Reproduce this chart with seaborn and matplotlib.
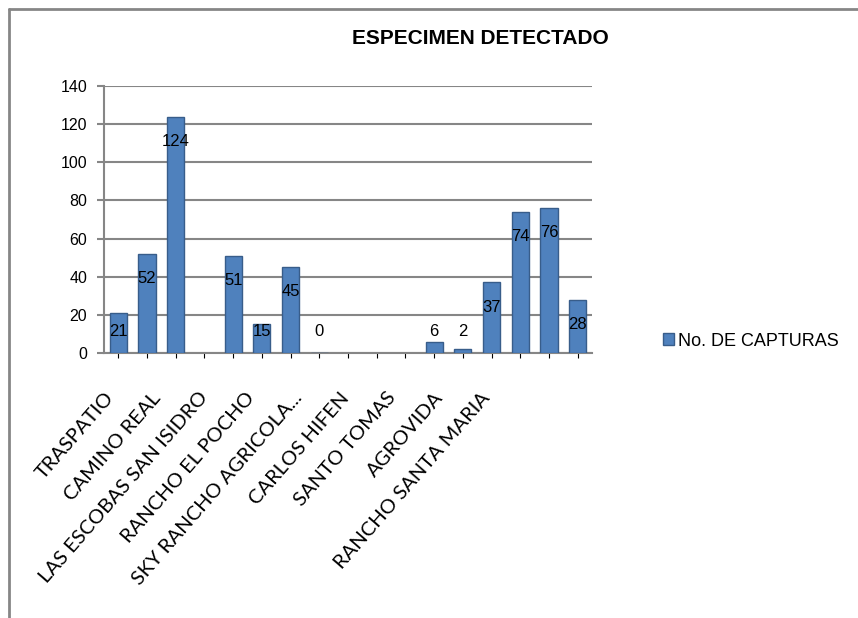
import numpy as np
import pandas as pd
import matplotlib.pyplot as plt
import matplotlib.lines as mlines
import seaborn as sns

# datos (las posiciones sin etiqueta visible llevan nombre generico)
sitios = ['TRASPATIO', 'SITIO 2', 'CAMINO REAL', 'SITIO 4', 'LAS ESCOBAS SAN ISIDRO', 'SITIO 6',
          'RANCHO EL POCHO', 'SITIO 8', 'SKY RANCHO AGRICOLA...', 'SITIO 10', 'CARLOS HIFEN',
          'SITIO 12', 'SANTO TOMAS', 'SITIO 14', 'AGROVIDA', 'SITIO 16', 'RANCHO SANTA MARIA']
capturas = [21, 52, 124, None, 51, 15, 45, 0, None, None, None, 6, 2, 37, 74, 76, 28]
etiquetas = sitios[::2]
serie = 'No. DE CAPTURAS'
titulo = 'ESPECIMEN DETECTADO'

df = pd.DataFrame({'Sitio': sitios, 'Capturas': capturas}).dropna()

sns.set_style('white')
plt.rcParams['font.family'] = ['Liberation Sans', 'DejaVu Sans']
plt.rcParams['text.color'] = 'black'
plt.rcParams['xtick.color'] = 'black'
plt.rcParams['ytick.color'] = 'black'

azul = '#4F81BD'
borde = '#385D8A'
gris = '#868686'

fig = plt.figure(figsize=(8.58, 6.18), dpi=100)
ax = fig.add_axes([104 / 858, 1 - 353 / 618, 488 / 858, 267 / 618])

sns.barplot(data=df, x='Sitio', y='Capturas', order=sitios, color=azul, width=0.6,
            edgecolor=borde, linewidth=1, saturation=1, ax=ax, zorder=3)

ax.set_xlim(-0.5, len(sitios) - 0.5)
ax.set_ylim(0, 140)
ax.set_yticks(np.arange(0, 141, 20))
ax.yaxis.grid(True, color=gris, linewidth=1.5, zorder=0)
ax.set_axisbelow(True)
ax.tick_params(axis='y', left=True, length=5, width=1.5, color=gris, labelcolor='black',
               labelsize=11.5, pad=7)
ax.tick_params(axis='x', bottom=False, labelbottom=False)
for s in ['top', 'right']:
    ax.spines[s].set_visible(False)
for s in ['left', 'bottom']:
    ax.spines[s].set_color(gris)
    ax.spines[s].set_linewidth(1.5)
ax.set_xlabel('')
ax.set_ylabel('')

# etiquetas de valor
for i, (nombre, v) in enumerate(zip(sitios, capturas)):
    if v is None:
        continue
    ax.text(i, max(v - 13, 11.5), str(v), ha='center', va='center', fontsize=12,
            color='black', zorder=5)

# etiquetas de categoria en un eje gemelo
ax2 = ax.twiny()
ax2.set_xlim(0.35, 10.37)
ax2.set_xticks(range(len(etiquetas)))
ax2.set_xticklabels(etiquetas, rotation=49, ha='right', rotation_mode='anchor',
                    fontsize=14.5, family=['Lato', 'DejaVu Sans'], color='black')
ax2.xaxis.set_ticks_position('bottom')
ax2.xaxis.set_label_position('bottom')
ax2.tick_params(axis='x', length=0, pad=26)
for s in ax2.spines.values():
    s.set_visible(False)

fig.text(480 / 858, 1 - 38 / 618, titulo, ha='center', va='center', fontsize=15,
         fontweight='bold', color='black')

h = plt.Rectangle((0, 0), 1, 1, facecolor=azul, edgecolor=borde)
fig.legend([h], [serie], loc='center left', bbox_to_anchor=(647 / 858, 1 - 341 / 618),
           frameon=False, fontsize=13, handlelength=0.6, handleheight=0.6, handletextpad=0.2)

# marco del grafico
fig.add_artist(mlines.Line2D([9 / 858, 9 / 858], [0, 1 - 9 / 618], color=gris, linewidth=2))
fig.add_artist(mlines.Line2D([9 / 858, 1], [1 - 9 / 618, 1 - 9 / 618], color=gris, linewidth=2))

fig.savefig('out.png', dpi=100)
